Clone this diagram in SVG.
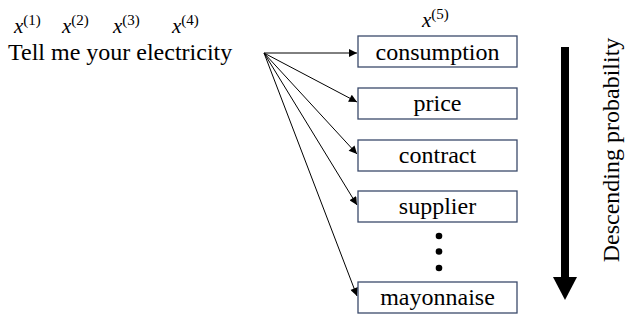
<svg xmlns="http://www.w3.org/2000/svg" width="643" height="320" viewBox="0 0 643 320">
<style>
.box{fill:#fff;stroke:#3b4a6b;stroke-width:1.3}
.ln{stroke:#000;stroke-width:1;fill:none}
</style>
<defs>
<marker id="ah" viewBox="0 0 10 10" refX="10" refY="5" markerWidth="10" markerHeight="8" markerUnits="userSpaceOnUse" orient="auto">
<path d="M0,0 L10,5 L0,10 z" fill="#000"/>
</marker>
</defs>
<rect width="643" height="320" fill="#fff"/>
<g id="labels">
<text x="14" y="33" font-family="Liberation Serif, serif" font-style="italic" font-size="21">x<tspan font-style="normal" font-size="15" dy="-8">(1)</tspan></text>
<text x="62" y="33" font-family="Liberation Serif, serif" font-style="italic" font-size="21">x<tspan font-style="normal" font-size="15" dy="-8">(2)</tspan></text>
<text x="113" y="33" font-family="Liberation Serif, serif" font-style="italic" font-size="21">x<tspan font-style="normal" font-size="15" dy="-8">(3)</tspan></text>
<text x="172" y="33" font-family="Liberation Serif, serif" font-style="italic" font-size="21">x<tspan font-style="normal" font-size="15" dy="-8">(4)</tspan></text>
<text x="422" y="27" font-family="Liberation Serif, serif" font-style="italic" font-size="21">x<tspan font-style="normal" font-size="15" dy="-8">(5)</tspan></text>
</g>
<g id="source"><text x="8" y="60" font-family="Liberation Serif, serif" font-size="24">Tell me your electricity</text></g>
<g id="connectors">
<line class="ln" x1="264" y1="53" x2="357" y2="53" marker-end="url(#ah)"/>
<line class="ln" x1="264" y1="53" x2="357" y2="102" marker-end="url(#ah)"/>
<line class="ln" x1="264" y1="53" x2="357" y2="154" marker-end="url(#ah)"/>
<line class="ln" x1="264" y1="53" x2="357" y2="205" marker-end="url(#ah)"/>
<line class="ln" x1="264" y1="53" x2="357" y2="296" marker-end="url(#ah)"/>
</g>
<g id="consumption"><rect class="box" x="358" y="36" width="159" height="31"/><text x="437.5" y="60" font-family="Liberation Serif, serif" font-size="24" text-anchor="middle">consumption</text></g>
<g id="price"><rect class="box" x="358" y="88" width="159" height="31"/><text x="437.5" y="111" font-family="Liberation Serif, serif" font-size="24" text-anchor="middle">price</text></g>
<g id="contract"><rect class="box" x="358" y="140" width="159" height="31"/><text x="437.5" y="163" font-family="Liberation Serif, serif" font-size="24" text-anchor="middle">contract</text></g>
<g id="supplier"><rect class="box" x="358" y="191" width="159" height="31"/><text x="437.5" y="214" font-family="Liberation Serif, serif" font-size="24" text-anchor="middle">supplier</text></g>
<g id="mayonnaise"><rect class="box" x="358" y="282" width="159" height="31"/><text x="437.5" y="305" font-family="Liberation Serif, serif" font-size="24" text-anchor="middle">mayonnaise</text></g>
<g id="dots"><circle cx="439" cy="236" r="3.3"/><circle cx="439" cy="251.5" r="3.3"/><circle cx="439" cy="268" r="3.3"/></g>
<g id="prob-arrow">
<rect x="561" y="47" width="8" height="231" fill="#000"/>
<path d="M553,277 L577,277 L565,300 z" fill="#000"/>
</g>
<g id="prob-label"><text transform="translate(619,150) rotate(-90)" font-family="Liberation Serif, serif" font-size="24" text-anchor="middle">Descending probability</text></g>
</svg>
